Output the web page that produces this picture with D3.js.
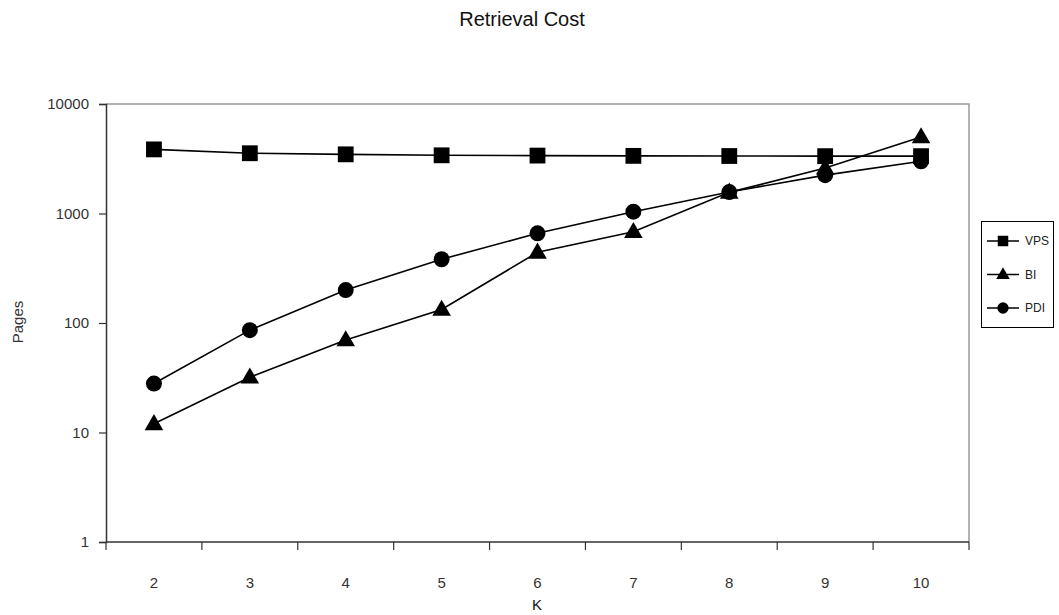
<!DOCTYPE html>
<html>
<head>
<meta charset="utf-8">
<script src="https://cdn.jsdelivr.net/npm/d3@7"></script>
<style>
  html, body { margin: 0; padding: 0; background: #fff; }
  svg { display: block; font-family: "Liberation Sans", Arial, Helvetica, sans-serif; }
</style>
</head>
<body>
<svg id="chart" width="1059" height="615"></svg>
<script>
// Retrieval cost (pages read) for each K, log scale
const kValues = [2, 3, 4, 5, 6, 7, 8, 9, 10];
const vpsPages = [3850, 3550, 3470, 3400, 3380, 3360, 3350, 3340, 3340];
const biPages  = [12, 32, 70, 133, 442, 682, 1560, 2600, 5000];
const pdiPages = [28, 86, 200, 382, 659, 1038, 1570, 2240, 3000];
const yTickValues = [1, 10, 100, 1000, 10000];
const seriesNames = ["VPS", "BI", "PDI"];
const markerShapes = [d3.symbolSquare, d3.symbolTriangle, d3.symbolCircle];

const series = [
  { name: seriesNames[0], values: vpsPages, shape: markerShapes[0], size: 250, legendSize: 110 },
  { name: seriesNames[1], values: biPages,  shape: markerShapes[1], size: 150, legendSize: 80 },
  { name: seriesNames[2], values: pdiPages, shape: markerShapes[2], size: 200, legendSize: 100 }
];

const svg = d3.select("#chart");
const plot = { left: 106, right: 969, top: 104, bottom: 542 };

const x = d3.scaleBand()
  .domain(kValues)
  .range([plot.left, plot.right]);

const y = d3.scaleLog()
  .domain([1, 10000])
  .range([plot.bottom, plot.top]);

// frame: grey top and right edges
svg.append("path")
  .attr("d", `M${plot.left},${plot.top}H${plot.right}V${plot.bottom}`)
  .attr("fill", "none")
  .attr("stroke", "#999")
  .attr("stroke-width", 1.5);

// y axis
const yAxis = svg.append("g")
  .attr("transform", `translate(${plot.left},0)`)
  .call(d3.axisLeft(y).tickValues(yTickValues).tickFormat(d3.format("d")).tickSize(7).tickPadding(10));
yAxis.select(".domain").attr("stroke", "#333").attr("stroke-width", 1.5);
yAxis.selectAll(".tick line").attr("stroke", "#333").attr("stroke-width", 1.2);
yAxis.selectAll("text")
  .attr("font-size", 15)
  .attr("fill", "#333")
  .attr("font-family", "Liberation Sans, Arial, sans-serif");

// x axis: ticks between categories, labels centred in each band
const xAxisG = svg.append("g").attr("transform", `translate(0,${plot.bottom})`);
xAxisG.append("line")
  .attr("x1", plot.left).attr("x2", plot.right)
  .attr("stroke", "#333").attr("stroke-width", 1.5);
const boundaries = kValues.map(k => x(k)).concat([x(kValues[kValues.length - 1]) + x.bandwidth()]);
xAxisG.selectAll(".tick-mark")
  .data(boundaries)
  .join("line")
  .attr("class", "tick-mark")
  .attr("x1", d => d).attr("x2", d => d)
  .attr("y1", 0).attr("y2", 8)
  .attr("stroke", "#333").attr("stroke-width", 1.2);
xAxisG.selectAll(".tick-label")
  .data(kValues)
  .join("text")
  .attr("class", "tick-label")
  .attr("x", d => x(d) + x.bandwidth() / 2)
  .attr("y", 41)
  .attr("dy", "0.35em")
  .attr("text-anchor", "middle")
  .attr("font-size", 15)
  .attr("fill", "#333")
  .text(d => d);

// titles
svg.append("text")
  .attr("x", 522).attr("y", 19).attr("dy", "0.35em")
  .attr("text-anchor", "middle")
  .attr("font-size", 20)
  .attr("fill", "#111")
  .text("Retrieval Cost");

svg.append("text")
  .attr("x", 537).attr("y", 605).attr("dy", "0.35em")
  .attr("text-anchor", "middle")
  .attr("font-size", 15)
  .attr("fill", "#111")
  .text("K");

svg.append("text")
  .attr("transform", "translate(18,322) rotate(-90)")
  .attr("dy", "0.35em")
  .attr("text-anchor", "middle")
  .attr("font-size", 15)
  .attr("fill", "#333")
  .text("Pages");

// series lines and markers
const line = d3.line()
  .x((d, i) => x(kValues[i]) + x.bandwidth() / 2)
  .y(d => y(d));

series.forEach(s => {
  const g = svg.append("g");
  g.append("path")
    .datum(s.values)
    .attr("d", line)
    .attr("fill", "none")
    .attr("stroke", "#000")
    .attr("stroke-width", 1.6);
  g.selectAll("path.marker")
    .data(s.values)
    .join("path")
    .attr("class", "marker")
    .attr("transform", (d, i) => {
      const cx = x(kValues[i]) + x.bandwidth() / 2;
      const dy = s.shape === d3.symbolTriangle ? 1 : 0;
      return `translate(${cx},${y(d) + dy})`;
    })
    .attr("d", d3.symbol().type(s.shape).size(s.size))
    .attr("fill", "#000");
});

// legend
const legend = svg.append("g");
legend.append("rect")
  .attr("x", 981.5).attr("y", 221.5)
  .attr("width", 72).attr("height", 106)
  .attr("fill", "#fff")
  .attr("stroke", "#000")
  .attr("stroke-width", 1);

const legendY = d3.scalePoint().domain(seriesNames).range([241, 308]);
series.forEach(s => {
  const ly = legendY(s.name);
  legend.append("line")
    .attr("x1", 987).attr("x2", 1019)
    .attr("y1", ly).attr("y2", ly)
    .attr("stroke", "#000").attr("stroke-width", 1.5);
  legend.append("path")
    .attr("transform", `translate(1003,${ly + (s.shape === d3.symbolTriangle ? 0.5 : 0)})`)
    .attr("d", d3.symbol().type(s.shape).size(s.legendSize))
    .attr("fill", "#000");
  legend.append("text")
    .attr("x", 1025).attr("y", ly).attr("dy", "0.35em")
    .attr("font-size", 12)
    .attr("fill", "#222")
    .text(s.name);
});
</script>
</body>
</html>
